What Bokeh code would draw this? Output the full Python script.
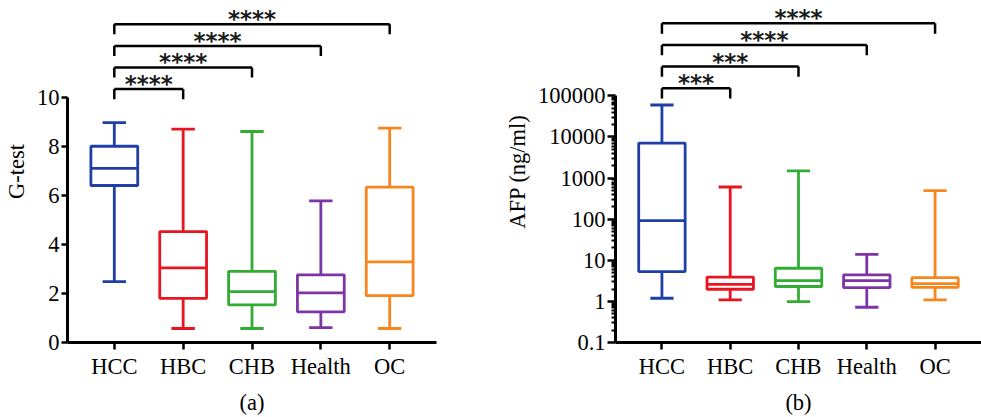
import numpy as np
from bokeh.plotting import figure
from bokeh.layouts import row
from bokeh.models import Range1d, FixedTicker, CustomJSTickFormatter, ColumnDataSource
from bokeh.embed import file_html
from bokeh.resources import INLINE
from bokeh.core.properties import value

# ---------------- data ----------------
groups = ["HCC", "HBC", "CHB", "Health", "OC"]
colors = ["#1f3fa6", "#e8141f", "#32ad33", "#7d35a5", "#f7861e"]

# panel (a): G-test
g_min = [2.48, 0.57, 0.57, 0.61, 0.57]
g_q1 = [6.40, 1.80, 1.53, 1.25, 1.91]
g_med = [7.10, 3.04, 2.07, 2.02, 3.29]
g_q3 = [8.00, 4.52, 2.90, 2.76, 6.33]
g_max = [8.96, 8.70, 8.60, 5.77, 8.74]

# panel (b): AFP (ng/ml)
afp_min = [1.19, 1.09, 0.99, 0.72, 1.09]
afp_q1 = [5.3, 1.97, 2.3, 2.17, 2.2]
afp_med = [92.5, 2.6, 3.2, 3.2, 2.7]
afp_q3 = [7030, 3.9, 6.4, 4.4, 3.78]
afp_max = [59600, 605, 1500, 13.9, 493]

# significance: HCC vs each other group
compare_to = ["HBC", "CHB", "Health", "OC"]
g_sig = ["****", "****", "****", "****"]
afp_sig = ["***", "***", "****", "****"]

g_ticks = [0, 2, 4, 6, 8, 10]
afp_ticks = [0.1, 1, 10, 100, 1000, 10000, 100000]

SERIF = "Liberation Serif"
FS = "22.5px"


def style(p, xlabel, ylabel):
    p.grid.visible = False
    p.outline_line_color = None
    p.background_fill_color = "white"
    p.border_fill_color = "white"
    for ax in (p.xaxis[0], p.yaxis[0]):
        ax.axis_line_width = 3
        ax.axis_line_color = "black"
        ax.major_tick_line_width = 2.5
        ax.major_tick_line_color = "black"
        ax.major_tick_in = 0
        ax.major_label_text_font = SERIF
        ax.major_label_text_font_size = FS
        ax.major_label_text_color = "black"
        ax.axis_label_text_font = SERIF
        ax.axis_label_text_font_size = FS
        ax.axis_label_text_font_style = "normal"
        ax.axis_label_text_color = "black"
    xa = p.xaxis[0]
    xa.ticker = FixedTicker(ticks=list(range(len(groups))), minor_ticks=[])
    xa.major_label_overrides = {i: g for i, g in enumerate(groups)}
    xa.major_tick_out = 7
    xa.minor_tick_out = 0
    xa.major_label_standoff = 4
    xa.axis_label = xlabel
    xa.axis_label_standoff = 8
    ya = p.yaxis[0]
    ya.axis_label = ylabel
    ya.major_label_standoff = 2
    ya.axis_label_standoff = 5


def boxes(p, mn, q1, med, q3, mx):
    xs = list(range(len(groups)))
    src = ColumnDataSource(dict(
        x=xs, mn=mn, q1=q1, med=med, q3=q3, mx=mx, color=colors,
        left=[x - 0.34 for x in xs], right=[x + 0.34 for x in xs],
        cl=[x - 0.17 for x in xs], cr=[x + 0.17 for x in xs],
    ))
    lw = 2.8
    p.segment(x0="x", y0="q3", x1="x", y1="mx", source=src, line_color="color", line_width=lw)
    p.segment(x0="x", y0="q1", x1="x", y1="mn", source=src, line_color="color", line_width=lw)
    p.segment(x0="cl", y0="mx", x1="cr", y1="mx", source=src, line_color="color", line_width=lw)
    p.segment(x0="cl", y0="mn", x1="cr", y1="mn", source=src, line_color="color", line_width=lw)
    p.quad(left="left", right="right", bottom="q1", top="q3", source=src,
           fill_color=None, line_color="color", line_width=lw)
    p.segment(x0="left", y0="med", x1="right", y1="med", source=src, line_color="color", line_width=lw)


def brackets(p, labels, ys, legs):
    x0 = [0.0] * len(compare_to)
    x1 = [float(groups.index(g)) for g in compare_to]
    src = ColumnDataSource(dict(x0=x0, x1=x1, y=ys, leg=legs, lab=labels,
                                xm=[(a + b) / 2 for a, b in zip(x0, x1)]))
    p.segment(x0="x0", y0="y", x1="x1", y1="y", source=src, line_color="black", line_width=2.5)
    p.segment(x0="x0", y0="y", x1="x0", y1="leg", source=src, line_color="black", line_width=2.5)
    p.segment(x0="x1", y0="y", x1="x1", y1="leg", source=src, line_color="black", line_width=2.5)
    p.text(x="xm", y="y", text="lab", source=src, text_align="center", text_baseline="bottom",
           y_offset=8, text_font=value("DejaVu Sans"), text_font_style="bold",
           text_font_size="23px", text_color="#1a1a1a")


# ---------------- panel (a) ----------------
p1 = figure(width=490, height=417, x_range=Range1d(-0.68, 4.68), y_range=Range1d(0, 13.94),
            output_backend="svg", toolbar_location=None,
            min_border_left=67, min_border_right=54, min_border_top=0, min_border_bottom=74)
style(p1, "(a)", "G-test")
p1.yaxis[0].ticker = FixedTicker(ticks=g_ticks, minor_ticks=[])
p1.yaxis[0].bounds = (0, 10)
p1.yaxis[0].major_tick_out = 6
p1.yaxis[0].minor_tick_out = 0
boxes(p1, g_min, g_q1, g_med, g_q3, g_max)
ya = [10.33 + 0.88 * i for i in range(4)]
brackets(p1, g_sig, ya, [y - 0.41 for y in ya])

# ---------------- panel (b) ----------------
p2 = figure(width=491, height=417, x_range=Range1d(-0.68, 4.68), y_range=Range1d(0.1, 10 ** 7.317),
            y_axis_type="log", output_backend="svg", toolbar_location=None,
            min_border_left=125, min_border_right=0, min_border_top=0, min_border_bottom=74)
style(p2, "(b)", "AFP (ng/ml)")
minor = [m * 10.0 ** e for e in range(-1, 5) for m in range(2, 10)]
p2.yaxis[0].ticker = FixedTicker(ticks=afp_ticks, minor_ticks=minor)
p2.yaxis[0].formatter = CustomJSTickFormatter(code="return tick < 1 ? tick.toFixed(1) : tick.toFixed(0);")
p2.yaxis[0].bounds = (0.1, 100000)
p2.yaxis[0].major_tick_out = 8
p2.yaxis[0].minor_tick_out = 4
p2.yaxis[0].minor_tick_in = 0
p2.yaxis[0].minor_tick_line_width = 2
p2.yaxis[0].minor_tick_line_color = "black"
boxes(p2, afp_min, afp_q1, afp_med, afp_q3, afp_max)
lb = [5.186 + 0.525 * i for i in range(4)]
brackets(p2, afp_sig, [10 ** v for v in lb], [10 ** (v - 0.25) for v in lb])

layout = row(p1, p2)
open("out.html", "w").write(file_html(layout, INLINE))
